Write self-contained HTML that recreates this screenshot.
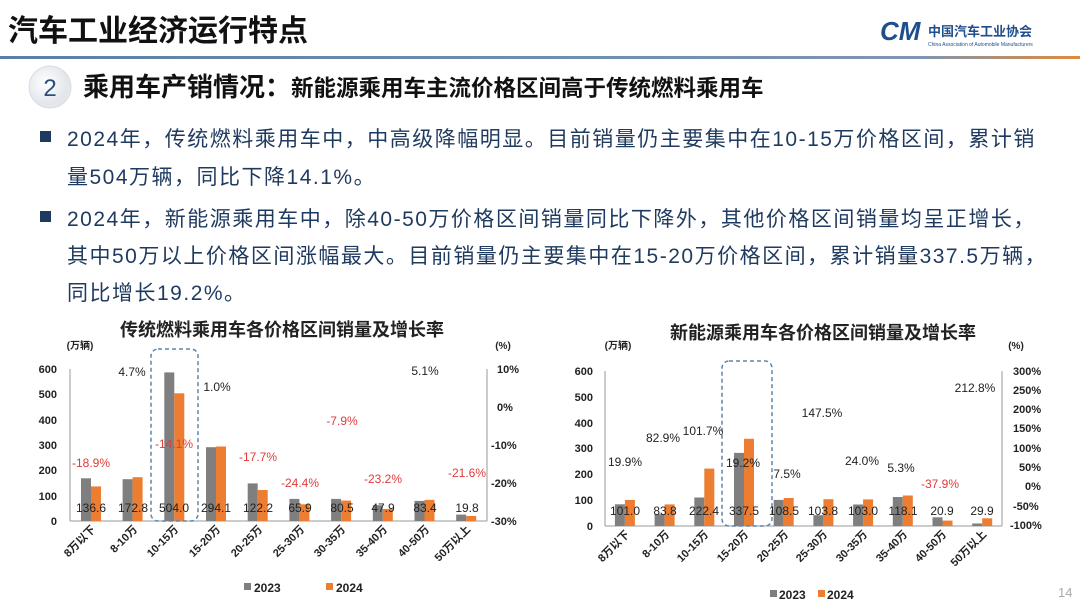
<!DOCTYPE html>
<html><head><meta charset="utf-8"><style>
body{margin:0;width:1080px;height:607px;background:#fff;overflow:hidden;font-family:"Liberation Sans","Noto Sans CJK SC",sans-serif}
svg text{font-family:"Liberation Sans","Noto Sans CJK SC",sans-serif}
</style></head><body>
<svg width="1080" height="607" viewBox="0 0 1080 607" xmlns="http://www.w3.org/2000/svg">
<defs>
<linearGradient id="ln" x1="0" x2="1"><stop offset="0" stop-color="#5a7fa6"/><stop offset="0.85" stop-color="#7d96b3"/><stop offset="1" stop-color="#e08a3c"/></linearGradient>
<radialGradient id="cg" cx="0.4" cy="0.4"><stop offset="0" stop-color="#fff"/><stop offset="1" stop-color="#e3e7ec"/></radialGradient>
</defs>
<text x="8" y="41" font-size="30" font-weight="bold" fill="#111">汽车工业经济运行特点</text>
<text x="880" y="40" font-size="26" font-weight="bold" font-style="italic" fill="#1f4e8c">CM</text>
<text x="928" y="36" font-size="13" font-weight="bold" fill="#1f4e8c">中国汽车工业协会</text>
<text x="928" y="46" font-size="5" fill="#1f4e8c">China Association of Automobile Manufacturers</text>
<rect x="0" y="56" width="1080" height="3" fill="url(#ln)"/>
<circle cx="50" cy="87" r="21" fill="url(#cg)" stroke="#d8dde3"/>
<text x="50" y="96" font-size="24" text-anchor="middle" fill="#2c4f7c">2</text>
<text x="83" y="96" font-size="26" font-weight="bold" fill="#111">乘用车产销情况：<tspan font-size="22.5">新能源乘用车主流价格区间高于传统燃料乘用车</tspan></text>
<g font-size="21" fill="#1f3a5f" letter-spacing="1.5">
<rect x="40" y="131" width="11" height="11" fill="#1f3a5f"/>
<text x="67" y="146">2024年，传统燃料乘用车中，中高级降幅明显。目前销量仍主要集中在10-15万价格区间，累计销</text>
<text x="67" y="184">量504万辆，同比下降14.1%。</text>
<rect x="40" y="211" width="11" height="11" fill="#1f3a5f"/>
<text x="67" y="226">2024年，新能源乘用车中，除40-50万价格区间销量同比下降外，其他价格区间销量均呈正增长，</text>
<text x="67" y="263">其中50万以上价格区间涨幅最大。目前销量仍主要集中在15-20万价格区间，累计销量337.5万辆，</text>
<text x="67" y="300">同比增长19.2%。</text>
</g>
<!-- LEFT CHART -->
<g font-weight="bold" fill="#222">
<text x="282" y="336" font-size="18" text-anchor="middle">传统燃料乘用车各价格区间销量及增长率</text>
<text x="80" y="349" font-size="10" text-anchor="middle">(万辆)</text>
<text x="503" y="349" font-size="10" text-anchor="middle">(%)</text>
<g font-size="11" text-anchor="end">
<text x="57" y="373">600</text><text x="57" y="398">500</text><text x="57" y="424">400</text><text x="57" y="449">300</text><text x="57" y="474">200</text><text x="57" y="500">100</text><text x="57" y="525">0</text>
</g>
<g font-size="11">
<text x="497" y="373">10%</text><text x="497" y="411">0%</text><text x="491" y="449">-10%</text><text x="491" y="487">-20%</text><text x="491" y="525">-30%</text>
</g>
</g>
<line x1="70" y1="369" x2="70" y2="521" stroke="#999"/>
<line x1="487" y1="369" x2="487" y2="521" stroke="#999"/>
<line x1="70" y1="521" x2="487" y2="521" stroke="#999"/>
<g fill="#7f7f7f">
<rect x="81" y="478.3" width="10" height="42.7"/><rect x="122.6" y="479.2" width="10" height="41.8"/><rect x="164.3" y="372.4" width="10" height="148.6"/><rect x="206" y="447.2" width="10" height="73.8"/><rect x="247.7" y="483.4" width="10" height="37.6"/><rect x="289.4" y="498.9" width="10" height="22.1"/><rect x="331.1" y="498.9" width="10" height="22.1"/><rect x="372.8" y="505.2" width="10" height="15.8"/><rect x="414.5" y="500.9" width="10" height="20.1"/><rect x="456.2" y="514.6" width="10" height="6.4"/>
</g>
<g fill="#ed7d31">
<rect x="91" y="486.4" width="10" height="34.6"/><rect x="132.6" y="477.2" width="10" height="43.8"/><rect x="174.3" y="393.3" width="10" height="127.7"/><rect x="216" y="446.5" width="10" height="74.5"/><rect x="257.7" y="490" width="10" height="31"/><rect x="299.4" y="504.3" width="10" height="16.7"/><rect x="341.1" y="500.6" width="10" height="20.4"/><rect x="382.8" y="508.9" width="10" height="12.1"/><rect x="424.5" y="499.9" width="10" height="21.1"/><rect x="466.2" y="516" width="10" height="5"/>
</g>
<rect x="151" y="349" width="47" height="172" rx="7" fill="none" stroke="#5b86b0" stroke-width="1.5" stroke-dasharray="4,3"/>
<g font-size="12" text-anchor="middle" fill="#222">
<text x="91" y="512">136.6</text><text x="133" y="512">172.8</text><text x="174" y="512">504.0</text><text x="216" y="512">294.1</text><text x="258" y="512">122.2</text><text x="300" y="512">65.9</text><text x="342" y="512">80.5</text><text x="383" y="512">47.9</text><text x="425" y="512">83.4</text><text x="467" y="512">19.8</text>
<text x="132" y="376">4.7%</text><text x="217" y="391">1.0%</text><text x="425" y="375">5.1%</text>
<g fill="#e03a3a"><text x="91" y="467">-18.9%</text><text x="174" y="448">-14.1%</text><text x="258" y="461">-17.7%</text><text x="300" y="487">-24.4%</text><text x="342" y="425">-7.9%</text><text x="383" y="483">-23.2%</text><text x="467" y="477">-21.6%</text></g>
</g>
<g font-size="11" font-weight="bold" fill="#222" text-anchor="end">
<text transform="translate(96,530) rotate(-45)">8万以下</text><text transform="translate(138,530) rotate(-45)">8-10万</text><text transform="translate(179,530) rotate(-45)">10-15万</text><text transform="translate(221,530) rotate(-45)">15-20万</text><text transform="translate(263,530) rotate(-45)">20-25万</text><text transform="translate(305,530) rotate(-45)">25-30万</text><text transform="translate(346,530) rotate(-45)">30-35万</text><text transform="translate(388,530) rotate(-45)">35-40万</text><text transform="translate(430,530) rotate(-45)">40-50万</text><text transform="translate(471,530) rotate(-45)">50万以上</text>
</g>
<rect x="244" y="583" width="7" height="7" fill="#7f7f7f"/><text x="254" y="592" font-size="12" font-weight="bold" fill="#222">2023</text>
<rect x="326" y="583" width="7" height="7" fill="#ed7d31"/><text x="336" y="592" font-size="12" font-weight="bold" fill="#222">2024</text>
<!-- RIGHT CHART -->
<g font-weight="bold" fill="#222">
<text x="823" y="339" font-size="18" text-anchor="middle">新能源乘用车各价格区间销量及增长率</text>
<text x="618" y="349" font-size="10" text-anchor="middle">(万辆)</text>
<text x="1016" y="349" font-size="10" text-anchor="middle">(%)</text>
<g font-size="11" text-anchor="end">
<text x="593" y="375">600</text><text x="593" y="401">500</text><text x="593" y="427">400</text><text x="593" y="452">300</text><text x="593" y="478">200</text><text x="593" y="504">100</text><text x="593" y="530">0</text>
</g>
<g font-size="11">
<text x="1013" y="375">300%</text><text x="1013" y="394">250%</text><text x="1013" y="413">200%</text><text x="1013" y="432">150%</text><text x="1013" y="452">100%</text><text x="1019" y="471">50%</text><text x="1025" y="490">0%</text><text x="1013" y="510">-50%</text><text x="1010" y="529">-100%</text>
</g>
</g>
<line x1="605" y1="371" x2="605" y2="526" stroke="#999"/>
<line x1="1002" y1="371" x2="1002" y2="526" stroke="#999"/>
<line x1="605" y1="526" x2="1002" y2="526" stroke="#999"/>
<g fill="#7f7f7f">
<rect x="614.9" y="504.3" width="10" height="21.7"/><rect x="654.6" y="514.2" width="10" height="11.8"/><rect x="694.3" y="497.5" width="10" height="28.5"/><rect x="734" y="452.9" width="10" height="73.1"/><rect x="773.7" y="499.9" width="10" height="26.1"/><rect x="813.4" y="515.2" width="10" height="10.8"/><rect x="853.1" y="504.5" width="10" height="21.5"/><rect x="892.8" y="497" width="10" height="29"/><rect x="932.5" y="517.3" width="10" height="8.7"/><rect x="972.2" y="523.5" width="10" height="2.5"/>
</g>
<g fill="#ed7d31">
<rect x="624.9" y="499.9" width="10" height="26.1"/><rect x="664.6" y="504.4" width="10" height="21.6"/><rect x="704.3" y="468.6" width="10" height="57.4"/><rect x="744" y="438.8" width="10" height="87.2"/><rect x="783.7" y="498" width="10" height="28"/><rect x="823.4" y="499.2" width="10" height="26.8"/><rect x="863.1" y="499.4" width="10" height="26.6"/><rect x="902.8" y="495.5" width="10" height="30.5"/><rect x="942.5" y="520.6" width="10" height="5.4"/><rect x="982.2" y="518.3" width="10" height="7.7"/>
</g>
<rect x="722" y="361" width="50" height="165" rx="7" fill="none" stroke="#5b86b0" stroke-width="1.5" stroke-dasharray="4,3"/>
<g font-size="12" text-anchor="middle" fill="#222">
<text x="625" y="515">101.0</text><text x="665" y="515">83.8</text><text x="704" y="515">222.4</text><text x="744" y="515">337.5</text><text x="784" y="515">108.5</text><text x="823" y="515">103.8</text><text x="863" y="515">103.0</text><text x="903" y="515">118.1</text><text x="942" y="515">20.9</text><text x="982" y="515">29.9</text>
<text x="625" y="466">19.9%</text><text x="663" y="442">82.9%</text><text x="703" y="435">101.7%</text><text x="743" y="467">19.2%</text><text x="787" y="478">7.5%</text><text x="822" y="417">147.5%</text><text x="862" y="465">24.0%</text><text x="901" y="472">5.3%</text><text x="940" y="488" fill="#e03a3a">-37.9%</text><text x="975" y="392">212.8%</text>
</g>
<g font-size="11" font-weight="bold" fill="#222" text-anchor="end">
<text transform="translate(630,535) rotate(-45)">8万以下</text><text transform="translate(670,535) rotate(-45)">8-10万</text><text transform="translate(709,535) rotate(-45)">10-15万</text><text transform="translate(749,535) rotate(-45)">15-20万</text><text transform="translate(789,535) rotate(-45)">20-25万</text><text transform="translate(828,535) rotate(-45)">25-30万</text><text transform="translate(868,535) rotate(-45)">30-35万</text><text transform="translate(908,535) rotate(-45)">35-40万</text><text transform="translate(947,535) rotate(-45)">40-50万</text><text transform="translate(987,535) rotate(-45)">50万以上</text>
</g>
<rect x="770" y="590" width="7" height="7" fill="#7f7f7f"/><text x="779" y="599" font-size="12" font-weight="bold" fill="#222">2023</text>
<rect x="818" y="590" width="7" height="7" fill="#ed7d31"/><text x="827" y="599" font-size="12" font-weight="bold" fill="#222">2024</text>
<text x="1058" y="597" font-size="13" fill="#aaa">14</text>
</svg>
</body></html>
